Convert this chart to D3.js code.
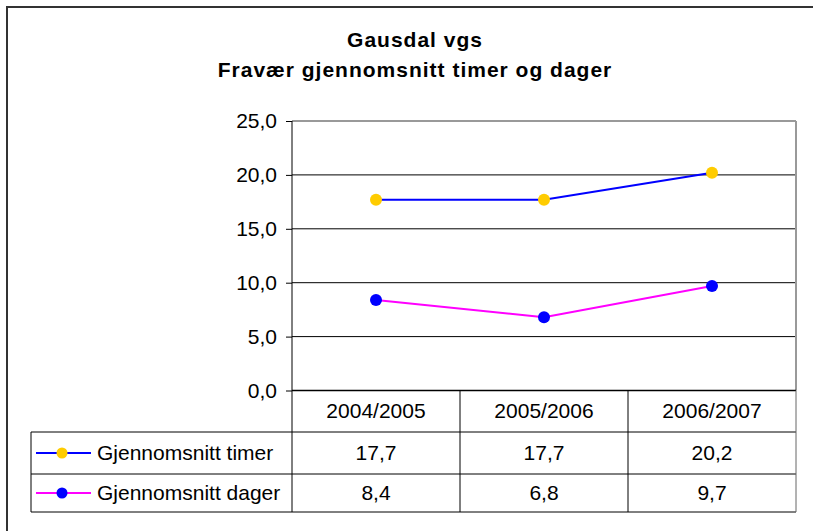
<!DOCTYPE html>
<html>
<head>
<meta charset="utf-8">
<script src="https://cdn.jsdelivr.net/npm/d3@7"></script>
<style>
  body { margin: 0; background: #fff; }
  svg { display: block; font-family: "Liberation Sans", Arial, sans-serif; }
</style>
</head>
<body>
<div id="chart"></div>
<script>
// data
var years = ["2004/2005", "2005/2006", "2006/2007"];
var timer = [17.7, 17.7, 20.2];
var dager = [8.4, 6.8, 9.7];
var yTicks = [0, 5, 10, 15, 20, 25];
var seriesNames = ["Gjennomsnitt timer", "Gjennomsnitt dager"];

var width = 813, height = 531;
var fs = 21;

var svg = d3.select("#chart").append("svg")
  .attr("width", width)
  .attr("height", height);

// ytre ramme
svg.append("rect")
  .attr("x", 7).attr("y", 7)
  .attr("width", 830).attr("height", 560)
  .attr("fill", "none")
  .attr("stroke", "#333")
  .attr("stroke-width", 2);

// tittel
svg.append("text")
  .attr("x", 415).attr("y", 47)
  .attr("text-anchor", "middle")
  .attr("font-size", fs).attr("font-weight", "bold")
  .attr("letter-spacing", 1)
  .text("Gausdal vgs");
svg.append("text")
  .attr("x", 415).attr("y", 77)
  .attr("text-anchor", "middle")
  .attr("font-size", fs).attr("font-weight", "bold")
  .attr("letter-spacing", 1)
  .text("Fravær gjennomsnitt timer og dager");

var plotLeft = 292, plotRight = 796, plotTop = 121, plotBottom = 390.5;

var x = d3.scaleBand().domain(years).range([plotLeft, plotRight]);
var y = d3.scaleLinear().domain([0, 25]).range([plotBottom, plotTop]);

// rutenett
svg.append("g").selectAll("line")
  .data(yTicks)
  .enter().append("line")
  .attr("x1", plotLeft).attr("x2", plotRight)
  .attr("y1", function(d) { return y(d); })
  .attr("y2", function(d) { return y(d); })
  .attr("stroke", function(d) { return d == 25 ? "#999" : "#000"; })
  .attr("stroke-width", function(d) { return d == 25 ? 2 : 1; });

// høyre kant
svg.append("line")
  .attr("x1", plotRight).attr("x2", plotRight)
  .attr("y1", plotTop).attr("y2", plotBottom)
  .attr("stroke", "#999").attr("stroke-width", 2);

// y-akse
var yAxis = d3.axisLeft(y)
  .tickValues(yTicks)
  .tickSize(6)
  .tickPadding(9)
  .tickFormat(function(d) { return d3.format(".1f")(d).replace(".", ","); });

var ax = svg.append("g")
  .attr("transform", "translate(" + plotLeft + ",0)")
  .call(yAxis);
ax.select(".domain").remove();
ax.selectAll(".tick line").attr("stroke", "#000");
ax.selectAll(".tick text")
  .attr("font-size", fs)
  .attr("font-family", "Liberation Sans, Arial, sans-serif")
  .attr("fill", "#000");
svg.append("line")
  .attr("x1", plotLeft).attr("x2", plotLeft)
  .attr("y1", plotTop).attr("y2", 512)
  .attr("stroke", "#000");

// tabell
var tableLeft = 31;
svg.append("line")
  .attr("x1", plotLeft).attr("x2", plotRight)
  .attr("y1", plotBottom).attr("y2", plotBottom)
  .attr("stroke", "#000").attr("stroke-width", 1.5);
[432, 474, 512].forEach(function(yy) {
  svg.append("line")
    .attr("x1", tableLeft).attr("x2", plotRight)
    .attr("y1", yy).attr("y2", yy)
    .attr("stroke", "#000");
});
svg.append("line")
  .attr("x1", tableLeft).attr("x2", tableLeft)
  .attr("y1", 432).attr("y2", 512)
  .attr("stroke", "#000");
years.forEach(function(yr, i) {
  var xx = x(yr) + x.bandwidth();
  svg.append("line")
    .attr("x1", xx).attr("x2", xx)
    .attr("y1", plotBottom).attr("y2", 512)
    .attr("stroke", i == years.length - 1 ? "#666" : "#000");
});

// kolonneoverskrifter
svg.append("g").selectAll("text")
  .data(years)
  .enter().append("text")
  .attr("x", function(d) { return x(d) + x.bandwidth() / 2; })
  .attr("y", 418)
  .attr("text-anchor", "middle")
  .attr("font-size", fs)
  .text(function(d) { return d; });

var series = [
  { name: seriesNames[0], values: timer, line: "#0000ff", marker: "#ffcc00", rowMid: 453 },
  { name: seriesNames[1], values: dager, line: "#ff00ff", marker: "#0000ff", rowMid: 493 }
];

var lineGen = d3.line()
  .x(function(d, i) { return x(years[i]) + x.bandwidth() / 2; })
  .y(function(d) { return y(d); });

series.forEach(function(s) {
  svg.append("path")
    .datum(s.values)
    .attr("d", lineGen)
    .attr("fill", "none")
    .attr("stroke", s.line)
    .attr("stroke-width", 2);

  svg.append("g").selectAll("circle")
    .data(s.values)
    .enter().append("circle")
    .attr("cx", function(d, i) { return x(years[i]) + x.bandwidth() / 2; })
    .attr("cy", function(d) { return y(d); })
    .attr("r", 6)
    .attr("fill", s.marker);

  // legende i tabellen
  svg.append("line")
    .attr("x1", 36).attr("x2", 91)
    .attr("y1", s.rowMid).attr("y2", s.rowMid)
    .attr("stroke", s.line).attr("stroke-width", 2);
  svg.append("circle")
    .attr("cx", 62).attr("cy", s.rowMid)
    .attr("r", 5.5)
    .attr("fill", s.marker);
  svg.append("text")
    .attr("x", 97).attr("y", s.rowMid + 7)
    .attr("font-size", fs)
    .text(s.name);

  svg.append("g").selectAll("text")
    .data(s.values)
    .enter().append("text")
    .attr("x", function(d, i) { return x(years[i]) + x.bandwidth() / 2; })
    .attr("y", s.rowMid + 7)
    .attr("text-anchor", "middle")
    .attr("font-size", fs)
    .text(function(d) { return d3.format(".1f")(d).replace(".", ","); });
});
</script>
</body>
</html>
